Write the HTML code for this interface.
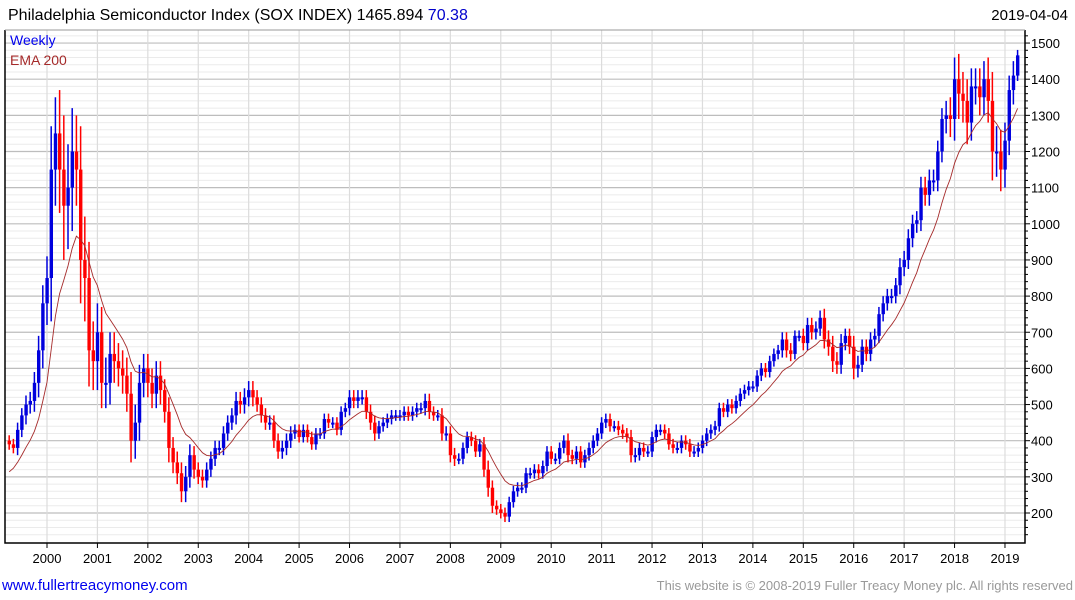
<!DOCTYPE html>
<html><head><meta charset="utf-8"><style>
body{margin:0;background:#fff;width:1075px;height:600px;overflow:hidden;font-family:"Liberation Sans",sans-serif}
svg{position:absolute;left:0;top:0}
</style></head><body>
<svg id="c" width="1075" height="600">
<text x="8" y="20" font-size="16" fill="#000">Philadelphia Semiconductor Index (SOX INDEX) 1465.894 <tspan fill="#0000cc">70.38</tspan></text>
<text x="1068" y="20" font-size="15" text-anchor="end" fill="#000">2019-04-04</text>
<g id="grid"></g><g id="bars"></g><g id="ema"></g><g id="axes"></g>
<text x="10" y="45" font-size="14" fill="#0000ee">Weekly</text>
<text x="10" y="65" font-size="14" fill="#a52a2a">EMA 200</text>
<text x="2" y="590" font-size="15" fill="#0000ee">www.fullertreacymoney.com</text>
<text x="1073" y="590" font-size="13" fill="#999" text-anchor="end">This website is © 2008-2019 Fuller Treacy Money plc. All rights reserved</text>
</svg>
<script>
const startYear = 1999.25;
const closes = [
390,380,430,470,500,510,560,650,780,
850,1150,1250,1150,1050,1100,1200,1150,900,850,650,620,
700,560,560,640,620,600,580,530,400,450,560,600,
560,530,580,540,480,380,340,310,260,300,360,320,
300,290,320,350,380,380,420,450,470,510,500,520,
540,520,500,470,450,450,400,370,380,400,420,430,
410,430,410,390,420,420,460,450,450,430,480,490,
520,510,520,520,480,450,420,440,450,460,470,470,
470,480,470,480,490,490,510,480,470,470,420,420,
360,350,350,380,410,400,370,390,320,270,220,210,
200,190,230,260,270,270,310,310,320,310,330,370,
350,350,380,400,360,350,370,340,360,380,400,420,
450,460,440,440,430,420,410,360,360,380,370,370,
410,430,430,420,390,380,380,400,390,370,370,380,
400,420,430,440,490,480,500,490,510,530,540,550,
550,580,600,590,620,640,650,680,650,640,690,690,
670,720,700,710,740,680,660,620,610,670,690,660,
600,610,660,640,680,690,750,780,800,800,830,880,
900,960,1000,1010,1100,1080,1120,1120,1200,1290,1300,1290,
1400,1360,1340,1280,1380,1380,1350,1400,1340,1200,1200,1150,
1230,1370,1410,1466];
const ranges = [
15,15,20,20,25,25,30,40,50,
60,120,100,120,150,120,120,100,120,120,100,80,
80,70,70,60,60,50,50,50,60,50,50,40,
40,40,40,40,30,40,30,30,30,30,30,25,
20,20,20,20,20,20,20,20,20,25,25,25,
25,25,20,20,20,20,20,20,20,20,20,15,
15,15,15,15,15,15,15,15,15,15,15,15,
20,20,20,20,20,20,20,15,15,15,15,15,
15,15,15,15,15,15,20,20,15,15,20,20,
20,20,15,15,15,15,15,15,20,25,20,15,
15,15,15,15,15,15,15,15,15,15,15,15,
15,15,15,15,20,15,15,15,15,15,15,15,
15,15,15,15,15,15,15,20,20,15,15,15,
15,15,15,15,15,15,15,15,15,15,15,15,
15,15,15,15,15,15,15,15,15,15,15,15,
15,15,15,15,15,15,15,20,20,20,15,15,
20,20,20,20,20,25,25,30,25,25,20,20,
30,25,20,20,20,20,20,20,20,20,20,25,
25,25,25,25,30,30,30,30,30,30,40,50,
60,70,60,60,50,50,50,50,60,80,70,60,
50,40,40,15];
const firstOpen = 400;
const emaSeed = 300;
const emaPeriod = 12;
const yTicks = [200,300,400,500,600,700,800,900,1000,1100,1200,1300,1400,1500];
const xTicks = [2000,2001,2002,2003,2004,2005,2006,2007,2008,2009,2010,2011,2012,2013,2014,2015,2016,2017,2018,2019];

const L=5,R=1025,T=30,B=543;
const X=yr=>47+(yr-2000)*50.42;
const Y=v=>513-(v-200)*0.3615;
const NS='http://www.w3.org/2000/svg';
function mk(tag,attrs,parent){const e=document.createElementNS(NS,tag);for(const k in attrs)e.setAttribute(k,attrs[k]);document.getElementById(parent).appendChild(e);return e;}

for(let v=140;v<=1540;v+=20){const y=Y(v);if(y<T||y>B)continue;
 const major=v%100===0;
 const l=mk('line',{x1:L,x2:R,y1:y,y2:y,stroke:major?'#bdbdbd':'#ebebeb','stroke-width':major?1.2:1},'grid');
 
 
 const t=mk('line',{x1:R,x2:R+(major?5:3),y1:y,y2:y,stroke:'#000'},'axes');
 
 
}
xTicks.forEach(yr=>{const x=X(yr);
 const l=mk('line',{x1:x,x2:x,y1:T,y2:B,stroke:'#dcdcdc','stroke-width':1.2},'grid');
 
 
 const t=mk('line',{x1:x,x2:x,y1:B,y2:B+5,stroke:'#000'},'axes');
 
 
 const lb=mk('text',{x:x,y:563,'font-size':13,'text-anchor':'middle',fill:'#000'},'axes');
 lb.textContent=yr;
 
 
});
yTicks.forEach(v=>{
 const lb=mk('text',{x:1031,y:Y(v)+5,'font-size':13,fill:'#000'},'axes');
 lb.textContent=v;
 
 
});
const fr=mk('path',{d:`M${L},${T}V${B}H${R}V${T}`,fill:'none',stroke:'#000','stroke-width':1.5},'axes');


const tl=mk('line',{x1:L,x2:R,y1:T,y2:T,stroke:'#999'},'axes');



let prev=firstOpen, ema=emaSeed; const pts=[]; const a=2/(emaPeriod+1);
closes.forEach((c,i)=>{
 const x=X(startYear+i/12);
 const hi=Math.max(prev,c), lo=Math.min(prev,c);
 const up=c>=prev;
 const col=up?'#0000dd':'#ff0000';
 const w=mk('line',{x1:x,x2:x,y1:Y(hi+ranges[i]),y2:Y(lo-ranges[i]),stroke:col,'stroke-width':1.5},'bars');
 
 
 const r=mk('rect',{x:x-1.6,y:Y(hi),width:3.4,height:Math.max(2,Y(lo)-Y(hi)),fill:col},'bars');
 
 
 ema=ema+a*(c-ema); pts.push(x.toFixed(1)+','+Y(ema).toFixed(1));
 prev=c;
});
const p=mk('polyline',{points:pts.join(' '),fill:'none',stroke:'#a52a2a','stroke-width':0.9},'ema');


</script>
</body></html>
